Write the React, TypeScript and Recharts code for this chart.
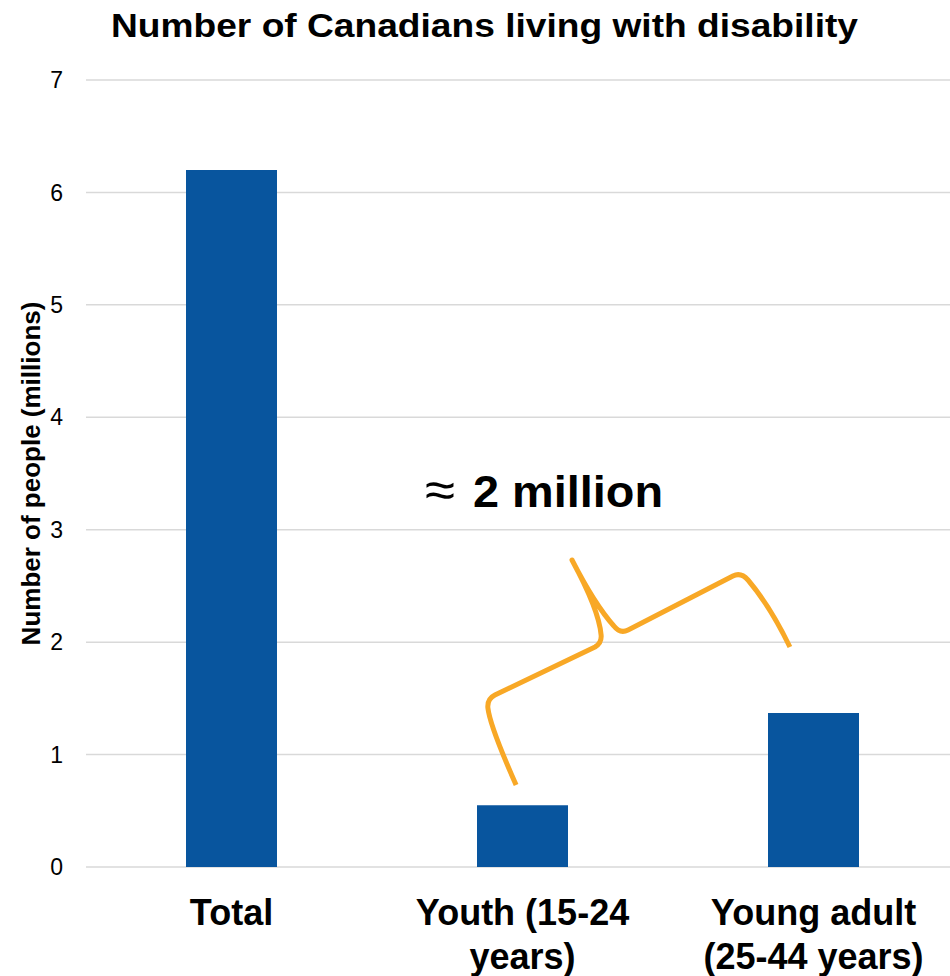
import { BarChart, Bar, XAxis, YAxis, CartesianGrid, Customized } from 'recharts';

const categories = ['Total', 'Youth (15-24\nyears)', 'Young adult\n(25-44 years)'];
const millions = [6.2, 0.55, 1.37];
const yTicks = [0, 1, 2, 3, 4, 5, 6, 7];

const data = categories.map((name, i) => ({ name, value: millions[i] }));

// layout
const CHART_W = 960;
const CHART_H = 976;
const PLOT_LEFT = 86;
const PLOT_TOP = 80;
const X_AXIS_H = 109;
const PLOT_BOTTOM = CHART_H - X_AXIS_H;
const BAND = (CHART_W - 1 - PLOT_LEFT) / categories.length;
const UNIT = (PLOT_BOTTOM - PLOT_TOP) / 7;

const FONT = '"Liberation Sans", Arial, sans-serif';
const BAR_BLUE = '#08559E';
const ORANGE = '#F8A826';

// category position (0 = first band centre) / value -> pixel
const X = (c: number) => PLOT_LEFT + (c + 0.5) * BAND;
const Y = (v: number) => PLOT_BOTTOM - v * UNIT;
const P = (c: number, v: number) => `${X(c).toFixed(1)} ${Y(v).toFixed(1)}`;

// hand-drawn brace between the two age groups, in category/value units
const bracePath = [
  `M ${P(0.978, 0.729)}`,
  `C ${P(0.94, 0.952)} ${P(0.888, 1.263)} ${P(0.881, 1.414)}`,
  `Q ${P(0.878, 1.494)} ${P(0.905, 1.53)}`,
  `L ${P(1.249, 1.957)}`,
  `Q ${P(1.273, 1.992)} ${P(1.27, 2.064)}`,
  `Q ${P(1.263, 2.286)} ${P(1.17, 2.731)}`,
  `Q ${P(1.249, 2.33)} ${P(1.314, 2.144)}`,
  `Q ${P(1.335, 2.072)} ${P(1.363, 2.108)}`,
  `L ${P(1.723, 2.588)}`,
  `Q ${P(1.751, 2.624)} ${P(1.775, 2.553)}`,
  `Q ${P(1.851, 2.321)} ${P(1.919, 1.957)}`,
].join(' ');

const XTick = (props: any) => {
  const { x, payload } = props;
  const lines = String(payload.value).split('\n');
  return (
    <text x={x} textAnchor="middle" fontFamily={FONT} fontWeight="bold" fontSize={36} fill="#000">
      {lines.map((l, i) => (
        <tspan key={i} x={x} y={PLOT_BOTTOM + 58 + i * 44}>
          {l}
        </tspan>
      ))}
    </text>
  );
};

const Decorations = () => (
  <g fontFamily={FONT}>
    <text x={111} y={37} fontSize={33} fontWeight="bold" fill="#000" textLength={747} lengthAdjust="spacingAndGlyphs">
      Number of Canadians living with disability
    </text>
    <text
      x={40}
      y={(PLOT_TOP + PLOT_BOTTOM) / 2}
      fontSize={26}
      fontWeight="bold"
      fill="#000"
      textAnchor="middle"
      transform={`rotate(-90, 40, ${(PLOT_TOP + PLOT_BOTTOM) / 2})`}
    >
      Number of people (millions)
    </text>
    <path d={bracePath} fill="none" stroke={ORANGE} strokeWidth={5} strokeLinejoin="round" />
    <text x={X(0.665)} y={Y(3.2)} fontSize={50} fill="#000" textLength={30} lengthAdjust="spacingAndGlyphs">≈</text>
    <text x={X(0.83)} y={Y(3.2)} fontSize={44} fontWeight="bold" fill="#000" textLength={190} lengthAdjust="spacingAndGlyphs">
      2 million
    </text>
  </g>
);

export default function App() {
  return (
    <div style={{ position: 'absolute', left: 0, top: 0, width: 950, height: CHART_H, overflow: 'hidden', background: '#fff' }}>
      <BarChart
        width={CHART_W}
        height={CHART_H}
        data={data}
        margin={{ top: PLOT_TOP, right: 1, bottom: 0, left: 0 }}
      >
        <CartesianGrid vertical={false} stroke="#D9D9D9" strokeWidth={1.5} />
        <XAxis
          dataKey="name"
          height={X_AXIS_H}
          axisLine={false}
          tickLine={false}
          interval={0}
          tick={<XTick />}
        />
        <YAxis
          width={PLOT_LEFT}
          domain={[0, 7]}
          ticks={yTicks}
          axisLine={false}
          tickLine={false}
          tickSize={6}
          tickMargin={17}
          tick={{ fontSize: 23, fill: '#000', fontFamily: FONT }}
        />
        <Bar dataKey="value" fill={BAR_BLUE} barSize={91} isAnimationActive={false} />
        <Customized component={Decorations} />
      </BarChart>
    </div>
  );
}
